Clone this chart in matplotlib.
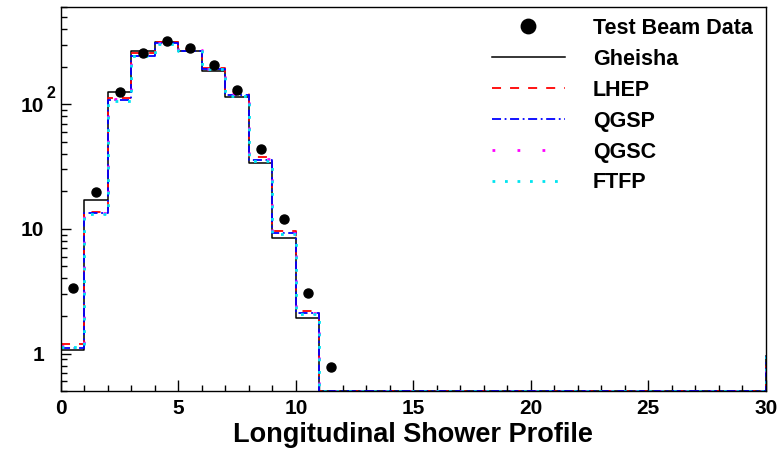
import numpy as np
import matplotlib
matplotlib.use("Agg")
import matplotlib.pyplot as plt
from matplotlib.ticker import MultipleLocator, LogLocator, NullFormatter, FixedLocator, FixedFormatter
import matplotlib.transforms as mtransforms

plt.rcParams['font.family'] = ['Liberation Sans', 'DejaVu Sans']
plt.rcParams['font.weight'] = 'bold'

# bin edges: 30 bins of width 1 from 0 to 30
edges = np.arange(0, 31, 1)
centers = edges[:-1] + 0.5

# test beam data (first 12 bins)
data = [3.35, 19.9, 125, 257, 319, 281, 206, 130, 43.6, 11.9, 3.08, 0.78]

# simulated profiles (non-zero bins; the rest are empty)
gheisha = [1.06, 17.0, 125, 265, 315, 269, 186, 114, 34.0, 8.4, 1.93]
lhep = [1.20, 13.7, 112, 257, 315, 277, 195, 125, 37.7, 9.6, 2.18]
qgsp = [1.10, 13.3, 108, 245, 308, 268, 190, 118, 36.0, 9.2, 2.10]
qgsc = [1.15, 13.5, 110, 252, 312, 272, 192, 120, 36.5, 9.3, 2.12]
ftfp = [1.12, 13.1, 107, 242, 306, 265, 190, 116, 35.0, 9.06, 2.08]
end_val = 0.95  # value drawn at the closing edge x=30

ymin, ymax = 0.5, 600

fig = plt.figure(figsize=(7.84, 4.49), dpi=100)
ax = fig.add_axes([0.0778, 0.129, 0.899, 0.855])


def full(vals):
    v = np.zeros(len(edges) - 1)
    v[:len(vals)] = vals
    v = np.where(v > 0, v, ymin)
    return np.append(v, end_val)


ax.step(edges, full(gheisha), where='post', color='black', lw=1.1, label='Gheisha')
ax.step(edges, full(lhep), where='post', color='#ff0000', lw=1.3,
        ls=(0, (5, 5)), label='LHEP')
ax.step(edges, full(qgsp), where='post', color='#0000ff', lw=1.3,
        ls=(0, (5, 2, 1, 2)), label='QGSP')
ax.step(edges, full(qgsc), where='post', color='#ff00ff', lw=2.0,
        ls=(0, (1, 8)), label='QGSC')
ax.step(edges, full(ftfp), where='post', color='#00e5f0', lw=2.0,
        ls=(0, (1, 3.5)), label='FTFP')
ax.plot(centers[:len(data)], data, 'o', color='black', ms=6.5,
        label='Test Beam Data', zorder=5)

ax.set_xlim(0, 30)
ax.set_yscale('log')
ax.set_ylim(ymin, ymax)

ax.xaxis.set_major_locator(MultipleLocator(5))
ax.xaxis.set_minor_locator(MultipleLocator(1))
ax.yaxis.set_major_locator(FixedLocator([1, 10, 100]))
ax.yaxis.set_major_formatter(FixedFormatter(['1', '10', '10']))
ax.yaxis.set_minor_locator(LogLocator(base=10, subs=np.arange(2, 10)))
ax.yaxis.set_minor_formatter(NullFormatter())

ax.tick_params(axis='x', which='major', direction='in', length=8, width=1,
               labelsize=15, pad=6)
ax.tick_params(axis='x', which='minor', direction='in', length=4, width=1)
ax.tick_params(axis='y', which='major', direction='in', length=7.5, width=1,
               labelsize=15, pad=12)
ax.tick_params(axis='y', which='minor', direction='in', length=4.5, width=1)
for lab in ax.get_xticklabels() + ax.get_yticklabels():
    lab.set_fontweight('bold')

# exponent of the 10^2 label
trans = mtransforms.blended_transform_factory(ax.transAxes, ax.transData)
ax.text(-0.021, 106, '2', transform=trans, fontsize=11.5, fontweight='bold',
        ha='left', va='bottom')

for sp in ax.spines.values():
    sp.set_linewidth(1.0)

ax.set_xlabel('Longitudinal Shower Profile', fontsize=19.5, fontweight='bold',
              labelpad=2.5)

handles, labels = ax.get_legend_handles_labels()
order = [5, 0, 1, 2, 3, 4]
leg = ax.legend([handles[i] for i in order], [labels[i] for i in order],
                loc='upper right', bbox_to_anchor=(0.997, 1.0), frameon=False,
                fontsize=15.5, handlelength=3.4, handletextpad=1.3,
                labelspacing=0.46, borderaxespad=0.1, markerscale=1.6)
for t in leg.get_texts():
    t.set_fontweight('bold')

fig.savefig('out.png', dpi=100)
plt.close(fig)
